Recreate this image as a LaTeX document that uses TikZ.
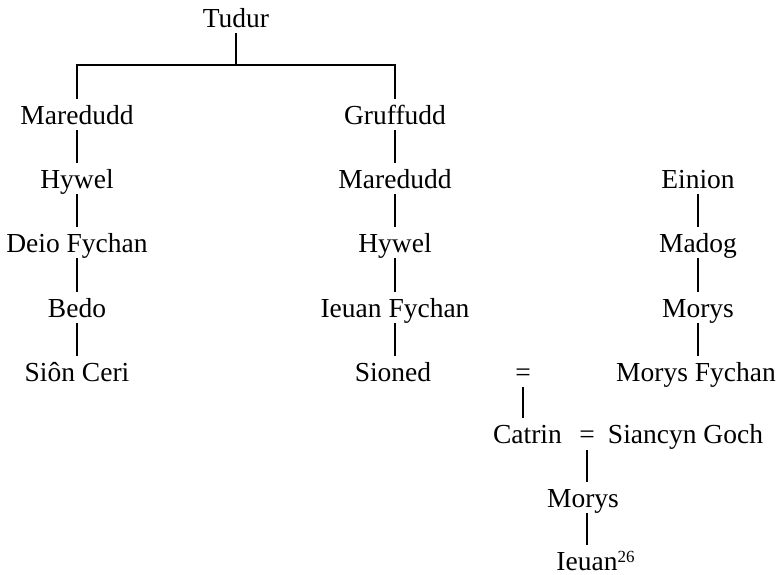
\documentclass[tikz,border=0pt]{standalone}
\usepackage{fontspec}
\setmainfont{Liberation Serif}
\begin{document}
\begin{tikzpicture}[x=1pt,y=-1pt,
  person/.style={anchor=base, inner sep=0pt, text height=25pt, text depth=6pt, font=\fontsize{27.5}{32}\selectfont},
  link/.style={line width=1.6pt}]
\useasboundingbox (0,0) rectangle (783,574);
% top
\node[person] (tudur) at (236,27) {Tudur};
\coordinate (bar) at (236,65);
% left column
\node[person] (mar1) at (77,124) {Maredudd};
\node[person] (hyw1) at (77,188) {Hywel};
\node[person] (deio) at (77,252) {Deio Fychan};
\node[person] (bedo) at (77,317) {Bedo};
\node[person] (sion) at (77,381) {Siôn Ceri};
% middle column
\node[person] (gruf) at (395,124) {Gruffudd};
\node[person] (mar2) at (395,188) {Maredudd};
\node[person] (hyw2) at (395,252) {Hywel};
\node[person] (ieuf) at (395,317) {Ieuan Fychan};
\node[person] (sioned) at (393,381) {Sioned};
% right column
\node[person] (einion) at (698,188) {Einion};
\node[person] (madog) at (698,252) {Madog};
\node[person] (morys1) at (698,317) {Morys};
\node[person] (morysf) at (696,381) {Morys Fychan};
% marriages
\node[person] (eq1) at (523,381) {=};
\node[person] (catrin) at (527.5,443) {Catrin};
\node[person] (eq2) at (587,443) {=};
\node[person] (siancyn) at (685.5,443) {Siancyn Goch};
\node[person] (morys2) at (583,507) {Morys};
\node[person, text depth=2pt] (ieuan) at (587,570) {Ieuan\rlap{\raisebox{8pt}{\fontsize{17}{17}\selectfont 26}}};
% connectors
\draw[link] (tudur.south) -- (bar);
\draw[link] (mar1.north) |- (bar) -| (gruf.north);
\draw[link] (mar1.south) -- (hyw1.north);
\draw[link] (hyw1.south) -- (deio.north);
\draw[link] (deio.south) -- (bedo.north);
\draw[link] (bedo.south) -- (sion.north);
\draw[link] (gruf.south) -- (mar2.north);
\draw[link] (mar2.south) -- (hyw2.north);
\draw[link] (hyw2.south) -- (ieuf.north);
\draw[link] (ieuf.south) -- (ieuf.south |- sioned.north);
\draw[link] (einion.south) -- (madog.north);
\draw[link] (madog.south) -- (morys1.north);
\draw[link] (morys1.south) -- (morys1.south |- morysf.north);
\draw[link] (eq1.south) -- (eq1.south |- catrin.north);
\draw[link] ([yshift=-1pt]eq2.south) -- (eq2.south |- morys2.north);
\draw[link] (eq2.south |- morys2.south) -- (eq2.south |- ieuan.north);
\end{tikzpicture}
\end{document}
